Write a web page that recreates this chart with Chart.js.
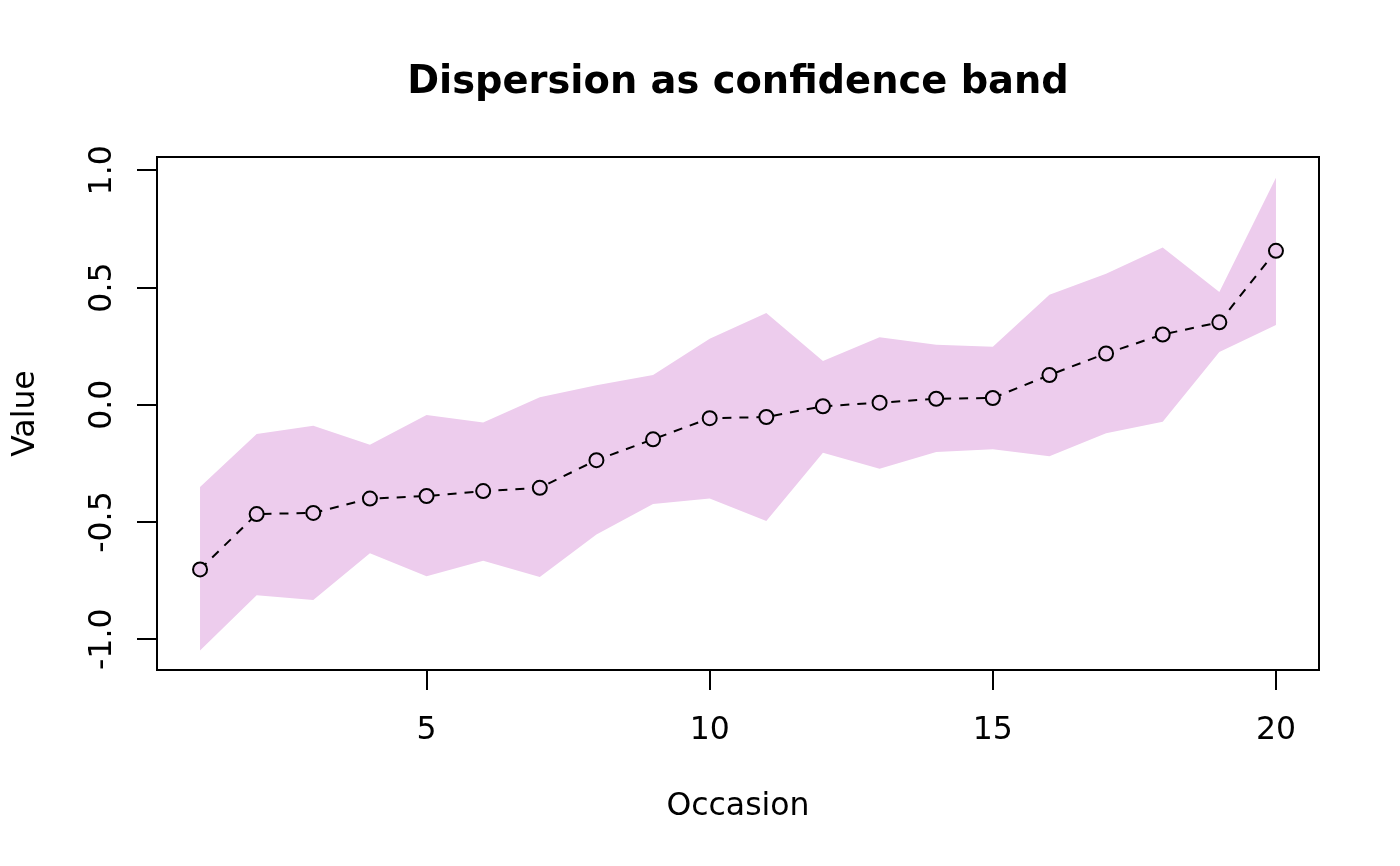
<!DOCTYPE html>
<html>
<head>
<meta charset="utf-8">
<script src="https://cdn.jsdelivr.net/npm/chart.js@4.4.1/dist/chart.umd.min.js"></script>
<style>
  html, body { margin: 0; padding: 0; background: #fff; }
  #wrap { width: 1400px; height: 866px; }
</style>
</head>
<body>
<div id="wrap"><canvas id="grafico" width="1400" height="866"></canvas></div>
<script>
// dados
const occasion = [1, 2, 3, 4, 5, 6, 7, 8, 9, 10, 11, 12, 13, 14, 15, 16, 17, 18, 19, 20];
const meanValue = [-0.702, -0.466, -0.461, -0.400, -0.389, -0.368, -0.354, -0.236, -0.147, -0.057,
                   -0.052, -0.006, 0.009, 0.026, 0.029, 0.127, 0.219, 0.300, 0.352, 0.657];
const upperBand = [-0.351, -0.124, -0.089, -0.170, -0.043, -0.075, 0.032, 0.084, 0.127, 0.282,
                   0.392, 0.187, 0.288, 0.256, 0.248, 0.470, 0.559, 0.671, 0.481, 0.968];
const lowerBand = [-1.048, -0.812, -0.832, -0.633, -0.731, -0.665, -0.734, -0.553, -0.423, -0.400,
                   -0.495, -0.204, -0.273, -0.201, -0.190, -0.219, -0.121, -0.072, 0.225, 0.340];
const xTicks = [5, 10, 15, 20];
const yTicks = [-1.0, -0.5, 0.0, 0.5, 1.0];

const titulo = 'Dispersion as confidence band';
const xTitulo = 'Occasion';
const yTitulo = 'Value';

const rosa = '#EDCCED';
const fonte = 'DejaVu Sans';

function pontos(ys) {
    return occasion.map((x, i) => ({ x: x, y: ys[i] }));
}

// caixa, título e rótulos no estilo do R
const estiloR = {
    id: 'estiloR',
    afterDraw(chart) {
        const ctx = chart.ctx;
        const area = chart.chartArea;
        const yScale = chart.scales.y;
        ctx.save();
        ctx.strokeStyle = '#000';
        ctx.lineWidth = 2;
        ctx.strokeRect(area.left, area.top, area.right - area.left, area.bottom - area.top);

        ctx.fillStyle = '#000';
        ctx.textAlign = 'center';
        ctx.textBaseline = 'alphabetic';
        const cx = (area.left + area.right) / 2;

        ctx.font = 'bold 38.4px "' + fonte + '"';
        ctx.fillText(titulo, cx, 93);

        ctx.font = '31.5px "' + fonte + '"';
        ctx.fillText(xTitulo, cx, 815);

        // rótulos do eixo y, girados
        yScale.ticks.forEach(t => {
            const py = yScale.getPixelForValue(t.value);
            ctx.save();
            ctx.translate(111, py);
            ctx.rotate(-Math.PI / 2);
            ctx.fillText(t.value.toFixed(1), 0, 0);
            ctx.restore();
        });

        ctx.save();
        ctx.translate(34, (area.top + area.bottom) / 2);
        ctx.rotate(-Math.PI / 2);
        ctx.fillText(yTitulo, 0, 0);
        ctx.restore();

        ctx.restore();
    }
};

const ctx = document.getElementById('grafico').getContext('2d');
const grafico = new Chart(ctx, {
    type: 'line',
    data: {
        datasets: [
            {
                label: 'Mean',
                data: pontos(meanValue),
                borderColor: '#000',
                borderWidth: 2,
                borderDash: [9, 8],
                pointRadius: 7,
                pointBorderWidth: 2,
                pointBorderColor: '#000',
                pointBackgroundColor: rosa,
                fill: false,
                tension: 0
            },
            {
                label: 'Lower',
                data: pontos(lowerBand),
                borderColor: 'rgba(0,0,0,0)',
                borderWidth: 0,
                pointRadius: 0,
                fill: false,
                tension: 0
            },
            {
                label: 'Upper',
                data: pontos(upperBand),
                borderColor: 'rgba(0,0,0,0)',
                borderWidth: 0,
                pointRadius: 0,
                backgroundColor: rosa,
                fill: 1,
                tension: 0
            }
        ]
    },
    options: {
        responsive: false,
        animation: false,
        layout: { padding: { left: 0, right: 81, top: 157, bottom: 0 } },
        plugins: {
            legend: { display: false },
            tooltip: { enabled: false },
            title: { display: false }
        },
        scales: {
            x: {
                type: 'linear',
                min: 0.24,
                max: 20.76,
                afterBuildTicks: s => { s.ticks = xTicks.map(v => ({ value: v })); },
                afterFit: s => { s.height = 196; },
                border: { display: false },
                grid: { drawOnChartArea: false, drawTicks: true, tickLength: 20, color: '#000', lineWidth: 2 },
                ticks: { color: '#000', padding: 22, maxRotation: 0, font: { family: fonte, size: 31.5 } }
            },
            y: {
                type: 'linear',
                min: -1.131,
                max: 1.057,
                afterBuildTicks: s => { s.ticks = yTicks.map(v => ({ value: v })); },
                afterFit: s => { s.width = 157; },
                border: { display: false },
                grid: { drawOnChartArea: false, drawTicks: true, tickLength: 20, color: '#000', lineWidth: 2 },
                ticks: { display: false }
            }
        }
    },
    plugins: [estiloR]
});
</script>
</body>
</html>
